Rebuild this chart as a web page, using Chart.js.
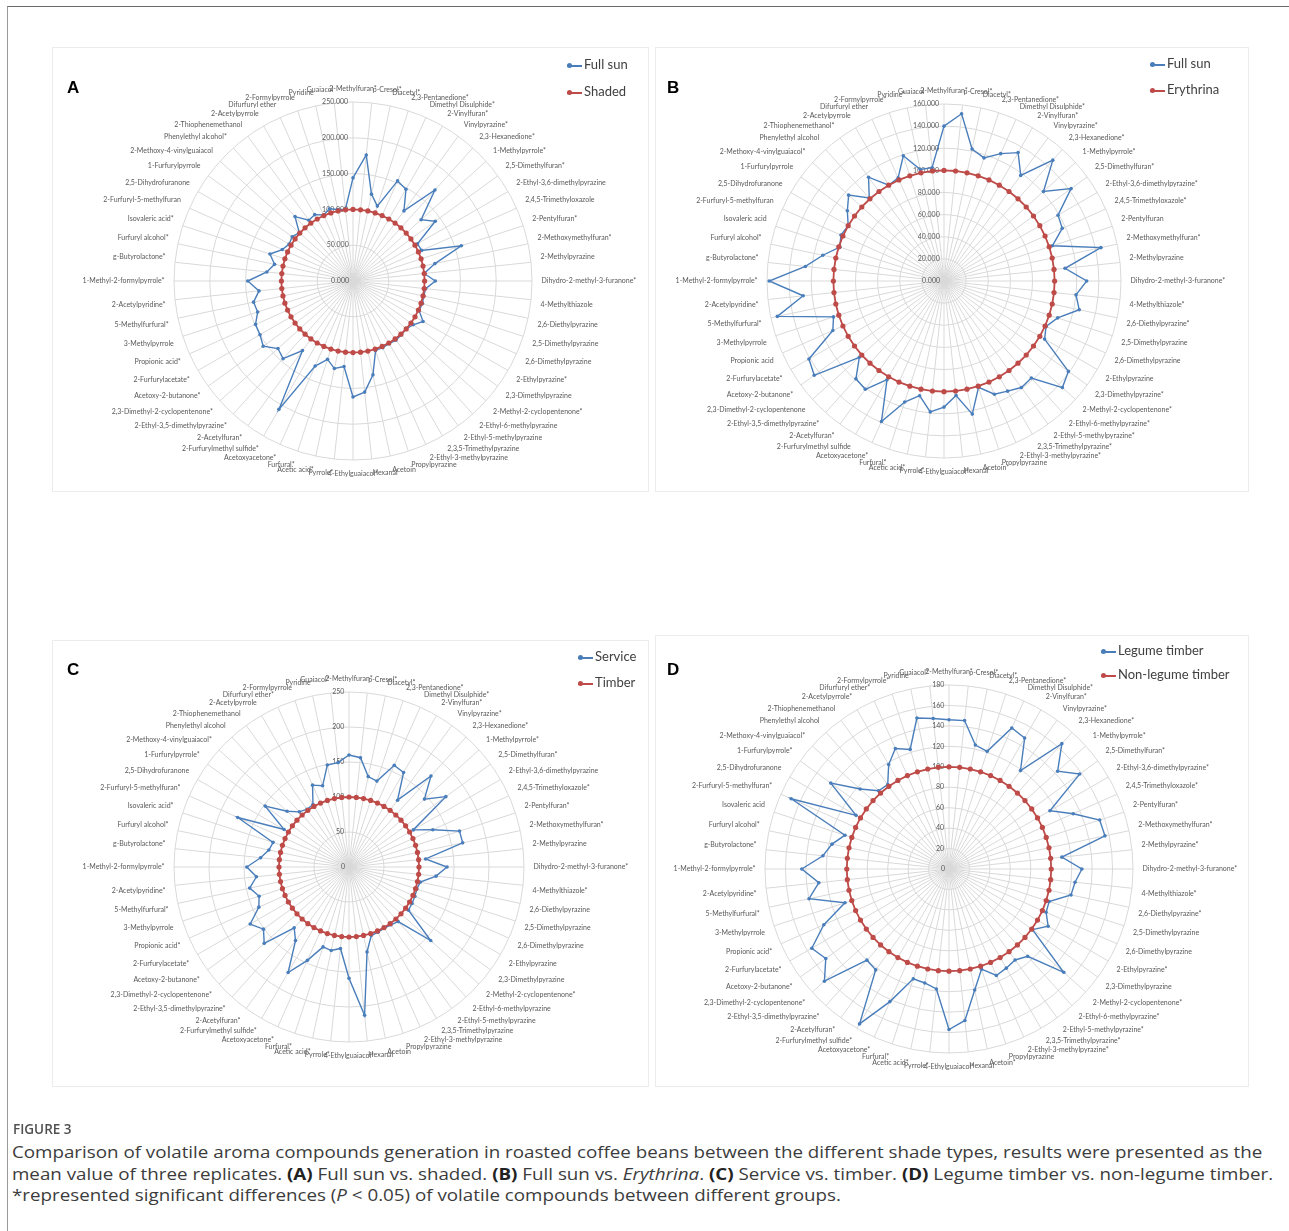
<!DOCTYPE html>
<html>
<head>
<meta charset="utf-8">
<script src="https://cdn.jsdelivr.net/npm/chart.js@4.4.1/dist/chart.umd.min.js"></script>
<style>
  body { margin: 0; width: 1289px; height: 1231px; background: #fff; position: relative; overflow: hidden; font-family: "Open Sans", sans-serif; }
  .frame { position: absolute; left: 7px; top: 6px; width: 1290px; height: 1240px; border-top: 1px solid #6a6a6a; border-left: 1px solid #9a9a9a; }
  .panel { position: absolute; border: 1px solid #ececec; }
  .chartCanvas { position: absolute; }
  .letter { position: absolute; font: bold 17px "Liberation Sans", Arial, sans-serif; color: #000; z-index: 3; }
  .legend { position: absolute; z-index: 3; font: 13px Lato, sans-serif; color: #404040; }
  .legend .item { position: relative; white-space: nowrap; }
  .legend .swatch { display: inline-block; position: relative; width: 15px; height: 2px; vertical-align: middle; margin-right: 2px; }
  .legend .swatch i { position: absolute; left: 0; top: -1.5px; width: 5px; height: 5px; border-radius: 50%; }
  .figNo { position: absolute; left: 13px; top: 1120px; font-size: 13.5px; font-weight: 600; color: #505050; }
  .caption { position: absolute; left: 12px; top: 1141px; font-size: 16.5px; line-height: 21.5px; color: #3c3c3c; white-space: nowrap; transform-origin: 0 0; }
  .caption b { color: #222; font-weight: 700; }
</style>
</head>
<body>
<div class="frame"></div>

<div class="panel" style="left:52px;top:47px;width:595px;height:443px"></div>
<div class="panel" style="left:655px;top:47px;width:592px;height:443px"></div>
<div class="panel" style="left:52px;top:640px;width:595px;height:445px"></div>
<div class="panel" style="left:655px;top:635px;width:592px;height:450px"></div>

<canvas id="chartA" class="chartCanvas" width="680" height="520"></canvas>
<canvas id="chartB" class="chartCanvas" width="680" height="520"></canvas>
<canvas id="chartC" class="chartCanvas" width="680" height="520"></canvas>
<canvas id="chartD" class="chartCanvas" width="680" height="520"></canvas>

<div class="letter" style="left:67px;top:78px">A</div>
<div class="letter" style="left:667px;top:78px">B</div>
<div class="letter" style="left:67px;top:660px">C</div>
<div class="letter" style="left:667px;top:660px">D</div>

<div class="legend" id="legendA" style="left:567px;top:51px"></div>
<div class="legend" id="legendB" style="left:1150px;top:50px"></div>
<div class="legend" id="legendC" style="left:578px;top:643px"></div>
<div class="legend" id="legendD" style="left:1101px;top:638px"></div>

<div class="figNo">FIGURE 3</div>
<div class="caption" id="caption"><span id="capLine1">Comparison of volatile aroma compounds generation in roasted coffee beans between the different shade types, results were presented as the</span><br>mean value of three replicates. <b>(A)</b> Full sun vs. shaded. <b>(B)</b> Full sun vs. <i>Erythrina</i>. <b>(C)</b> Service vs. timber. <b>(D)</b> Legume timber vs. non-legume timber.<br>*represented significant differences (<i>P</i> &lt; 0.05) of volatile compounds between different groups.</div>

<script>
// compound names, clockwise from the top
const compounds = [
  '2-Methylfuran', 'p-Cresol', 'Diacetyl', '2,3-Pentanedione', 'Dimethyl Disulphide', '2-Vinylfuran', 'Vinylpyrazine', '2,3-Hexanedione', '1-Methylpyrrole', '2,5-Dimethylfuran',
  '2-Ethyl-3,6-dimethylpyrazine', '2,4,5-Trimethyloxazole', '2-Pentylfuran', '2-Methoxymethylfuran', '2-Methylpyrazine', 'Dihydro-2-methyl-3-furanone', '4-Methylthiazole', '2,6-Diethylpyrazine', '2,5-Dimethylpyrazine', '2,6-Dimethylpyrazine',
  '2-Ethylpyrazine', '2,3-Dimethylpyrazine', '2-Methyl-2-cyclopentenone', '2-Ethyl-6-methylpyrazine', '2-Ethyl-5-methylpyrazine', '2,3,5-Trimethylpyrazine', '2-Ethyl-3-methylpyrazine', 'Propylpyrazine', 'Acetoin', 'Hexanal',
  '4-Ethylguaiacol', 'Pyrrole', 'Acetic acid', 'Furfural', 'Acetoxyacetone', '2-Furfurylmethyl sulfide', '2-Acetylfuran', '2-Ethyl-3,5-dimethylpyrazine', '2,3-Dimethyl-2-cyclopentenone', 'Acetoxy-2-butanone',
  '2-Furfurylacetate', 'Propionic acid', '3-Methylpyrrole', '5-Methylfurfural', '2-Acetylpyridine', '1-Methyl-2-formylpyrrole', 'g-Butyrolactone', 'Furfuryl alcohol', 'Isovaleric acid', '2-Furfuryl-5-methylfuran',
  '2,5-Dihydrofuranone', '1-Furfurylpyrrole', '2-Methoxy-4-vinylguaiacol', 'Phenylethyl alcohol', '2-Thiophenemethanol', '2-Acetylpyrrole', 'Difurfuryl ether', '2-Formylpyrrole', 'Pyridine', 'Guaiacol'
];

// compounds marked * (significant) in each panel, by index into compounds
const sigA = [0,1,2,3,4,5,6,7,8,9,12,13,15,20,22,30,31,32,33,34,35,36,37,38,39,40,41,43,44,45,46,47,48,53];
const sigB = [0,1,2,3,4,5,6,7,8,9,10,11,13,15,16,17,21,22,23,24,25,26,28,30,31,32,33,34,36,37,39,40,43,44,45,46,47,52,54,57,58];
const sigC = [0,1,2,3,4,5,6,7,8,9,11,12,13,15,16,22,30,31,32,33,34,35,36,37,38,39,40,41,43,44,45,46,47,48,49,51,52,56,59];
const sigD = [0,1,2,3,4,5,6,7,8,9,10,11,12,13,14,15,16,17,20,22,23,24,25,26,28,30,31,32,33,34,35,36,37,38,39,40,41,43,44,45,46,47,49,51,52,55,56,57,59];

// A: full sun vs shaded
const fullSunA = [144,177,124,110,153,148,121,171,128,142, 104,105,159,117,100,115,102,101,102,101,
                  113,104,100,101,102,101,102,102,134,156, 162,120,125,115,130,207,120,146,141,155,
                  150,149,140,142,132,147,121,112,122,108, 103,105,101,121,105,107,101,106,102,101];
const shadedA = [100,100,100,100,100,100,100,100,100,100, 100,100,100,100,100,100,100,100,100,100,
                 100,100,100,100,100,100,100,100,100,100, 100,100,100,100,100,100,100,100,100,100,
                 100,100,100,100,100,100,100,100,100,100, 100,100,100,100,100,100,100,100,100,100];

// B: full sun vs Erythrina
const fullSunB = [140,152,122,117,126,134,118,147,121,142, 119,117,103,145,110,129,120,125,108,101,
                  105,139,144,118,119,115,112,101,123,104, 114,119,106,115,139,103,121,119,103,145,
                  141,110,105,154,128,158,126,112,99,102, 100,108,116,101,116,100,102,119,103,103];
const erythrinaB = [100,100,100,100,100,100,100,100,100,100, 100,100,100,100,100,100,100,100,100,100,
                    100,100,100,100,100,100,100,100,100,100, 100,100,100,100,100,100,100,100,100,100,
                    100,100,100,100,100,100,100,100,100,100, 100,100,100,100,100,100,100,100,100,100];

// C: service vs timber
const serviceC = [160,157,132,129,159,156,118,175,145,171, 106,131,166,166,110,140,125,104,102,103,
                  104,105,157,105,102,101,102,103,124,213, 159,117,122,120,146,174,130,117,163,151,
                  163,141,135,145,133,146,127,117,114,174, 107,148,119,106,102,103,128,122,149,150];
const timberC = [100,100,100,100,100,100,100,100,100,100, 100,100,100,100,100,100,100,100,100,100,
                 100,100,100,100,100,100,100,100,100,100, 100,100,100,100,100,100,100,100,100,100,
                 100,100,100,100,100,100,100,100,100,100, 100,100,100,100,100,100,100,100,100,100];

// D: legume timber vs non-legume timber
const legumeD = [146,146,124,121,151,148,119,165,143,158, 114,133,155,156,111,130,124,122,103,104,
                 112,101,151,115,110,112,114,103,121,149, 157,118,114,113,142,175,122,120,164,149,
                 155,134,107,140,128,144,124,117,107,169, 105,143,117,103,102,118,129,123,151,148];
const nonLegumeD = [100,100,100,100,100,100,100,100,100,100, 100,100,100,100,100,100,100,100,100,100,
                    100,100,100,100,100,100,100,100,100,100, 100,100,100,100,100,100,100,100,100,100,
                    100,100,100,100,100,100,100,100,100,100, 100,100,100,100,100,100,100,100,100,100];

// axis ticks per panel
const ticksA = { max: 250, step: 50, decimals: 3 };
const ticksB = { max: 160, step: 20, decimals: 3 };
const ticksC = { max: 250, step: 50, decimals: 0 };
const ticksD = { max: 180, step: 20, decimals: 0 };

const blue = '#4a7ebb';
const red = '#be4b48';
const labelFont = { family: 'Lato', size: 7 };

let measureCtx = document.createElement('canvas').getContext('2d');

function starLabels(sig) {
  return compounds.map(function (name, i) {
    return sig.indexOf(i) >= 0 ? name + '*' : name;
  });
}

// tick text is centred on the axis by Chart.js; trailing spaces push it left like Excel
function shiftLeft(text) {
  measureCtx.font = '7px Lato';
  let w = measureCtx.measureText(text).width;
  let sp = measureCtx.measureText('\u00a0').width;
  return text + '\u00a0'.repeat(Math.round((w + 9) / sp));
}

const zeroLabel = {
  id: 'zeroLabel',
  afterDraw(chart) {
    let s = chart.scales.r;
    let ctx = chart.ctx;
    ctx.save();
    ctx.font = '7px Lato';
    ctx.fillStyle = '#595959';
    ctx.textAlign = 'right';
    ctx.textBaseline = 'middle';
    ctx.fillText(s.ticks[0].label.trim(), s.xCenter - 4, s.yCenter);
    ctx.restore();
  }
};

function makeRadar(id, labels, seriesA, seriesB, axis, target) {
  let canvas = document.getElementById(id);
  let chart = new Chart(canvas, {
    type: 'radar',
    data: {
      labels: labels,
      datasets: [
        {
          label: seriesA.name, data: seriesA.values, order: 1,
          borderColor: blue, backgroundColor: blue, borderWidth: 1.4,
          pointRadius: 1.8, pointBorderWidth: 0, pointBackgroundColor: blue, fill: false
        },
        {
          label: seriesB.name, data: seriesB.values, order: 0,
          borderColor: red, backgroundColor: red, borderWidth: 1.8,
          pointRadius: 2.6, pointBorderWidth: 0, pointBackgroundColor: red, fill: false
        }
      ]
    },
    options: {
      responsive: false,
      animation: false,
      layout: { padding: { left: 0, right: 0, top: 0, bottom: 0 } },
      plugins: { legend: { display: false }, tooltip: { enabled: false } },
      elements: { line: { tension: 0 } },
      scales: {
        r: {
          min: 0,
          max: axis.max,
          ticks: {
            stepSize: axis.step,
            font: labelFont,
            color: '#595959',
            showLabelBackdrop: false,
            callback: function (v) { return shiftLeft(v.toFixed(axis.decimals)); }
          },
          grid: { circular: true, color: '#d9d9d9', lineWidth: 1 },
          angleLines: { color: '#d9d9d9', lineWidth: 1 },
          pointLabels: { font: labelFont, color: '#595959', padding: 4 }
        }
      }
    },
    plugins: [zeroLabel]
  });

  // shrink the plot until its radius matches the figure, then move the canvas onto the centre
  for (let k = 0; k < 5; k++) {
    let diff = chart.scales.r.drawingArea - target.r;
    if (Math.abs(diff) < 1) break;
    let p = chart.options.layout.padding;
    chart.options.layout.padding = { left: p.left + diff, right: p.right + diff, top: p.top + diff, bottom: p.bottom + diff };
    chart.update('none');
  }
  let s = chart.scales.r;
  canvas.style.left = (target.x - s.xCenter) + 'px';
  canvas.style.top = (target.y - s.yCenter) + 'px';
  return chart;
}

function makeLegend(id, names, gap) {
  let box = document.getElementById(id);
  let colors = [blue, red];
  names.forEach(function (name, i) {
    box.innerHTML += '<div class="item" style="height:' + gap + 'px;line-height:' + gap + 'px">'
                   + '<span class="swatch" style="background:' + colors[i] + '"><i style="background:' + colors[i] + '"></i></span>'
                   + name + '</div>';
  });
}

makeRadar('chartA', starLabels(sigA), { name: 'Full sun', values: fullSunA }, { name: 'Shaded', values: shadedA }, ticksA, { x: 353, y: 281, r: 179 });
makeRadar('chartB', starLabels(sigB), { name: 'Full sun', values: fullSunB }, { name: 'Erythrina', values: erythrinaB }, ticksB, { x: 944, y: 281, r: 177 });
makeRadar('chartC', starLabels(sigC), { name: 'Service', values: serviceC }, { name: 'Timber', values: timberC }, ticksC, { x: 349, y: 867, r: 175 });
makeRadar('chartD', starLabels(sigD), { name: 'Legume timber', values: legumeD }, { name: 'Non-legume timber', values: nonLegumeD }, ticksD, { x: 949, y: 869, r: 184 });

makeLegend('legendA', ['Full sun', 'Shaded'], 27);
makeLegend('legendB', ['Full sun', 'Erythrina'], 26);
makeLegend('legendC', ['Service', 'Timber'], 26);
makeLegend('legendD', ['Legume timber', 'Non-legume timber'], 24);

// the journal font is wider than Open Sans: stretch the caption so line one spans the figure width
let line1 = document.getElementById('capLine1');
let stretch = 1250 / line1.getBoundingClientRect().width;
document.getElementById('caption').style.transform = 'scaleX(' + stretch.toFixed(3) + ')';
</script>
</body>
</html>
